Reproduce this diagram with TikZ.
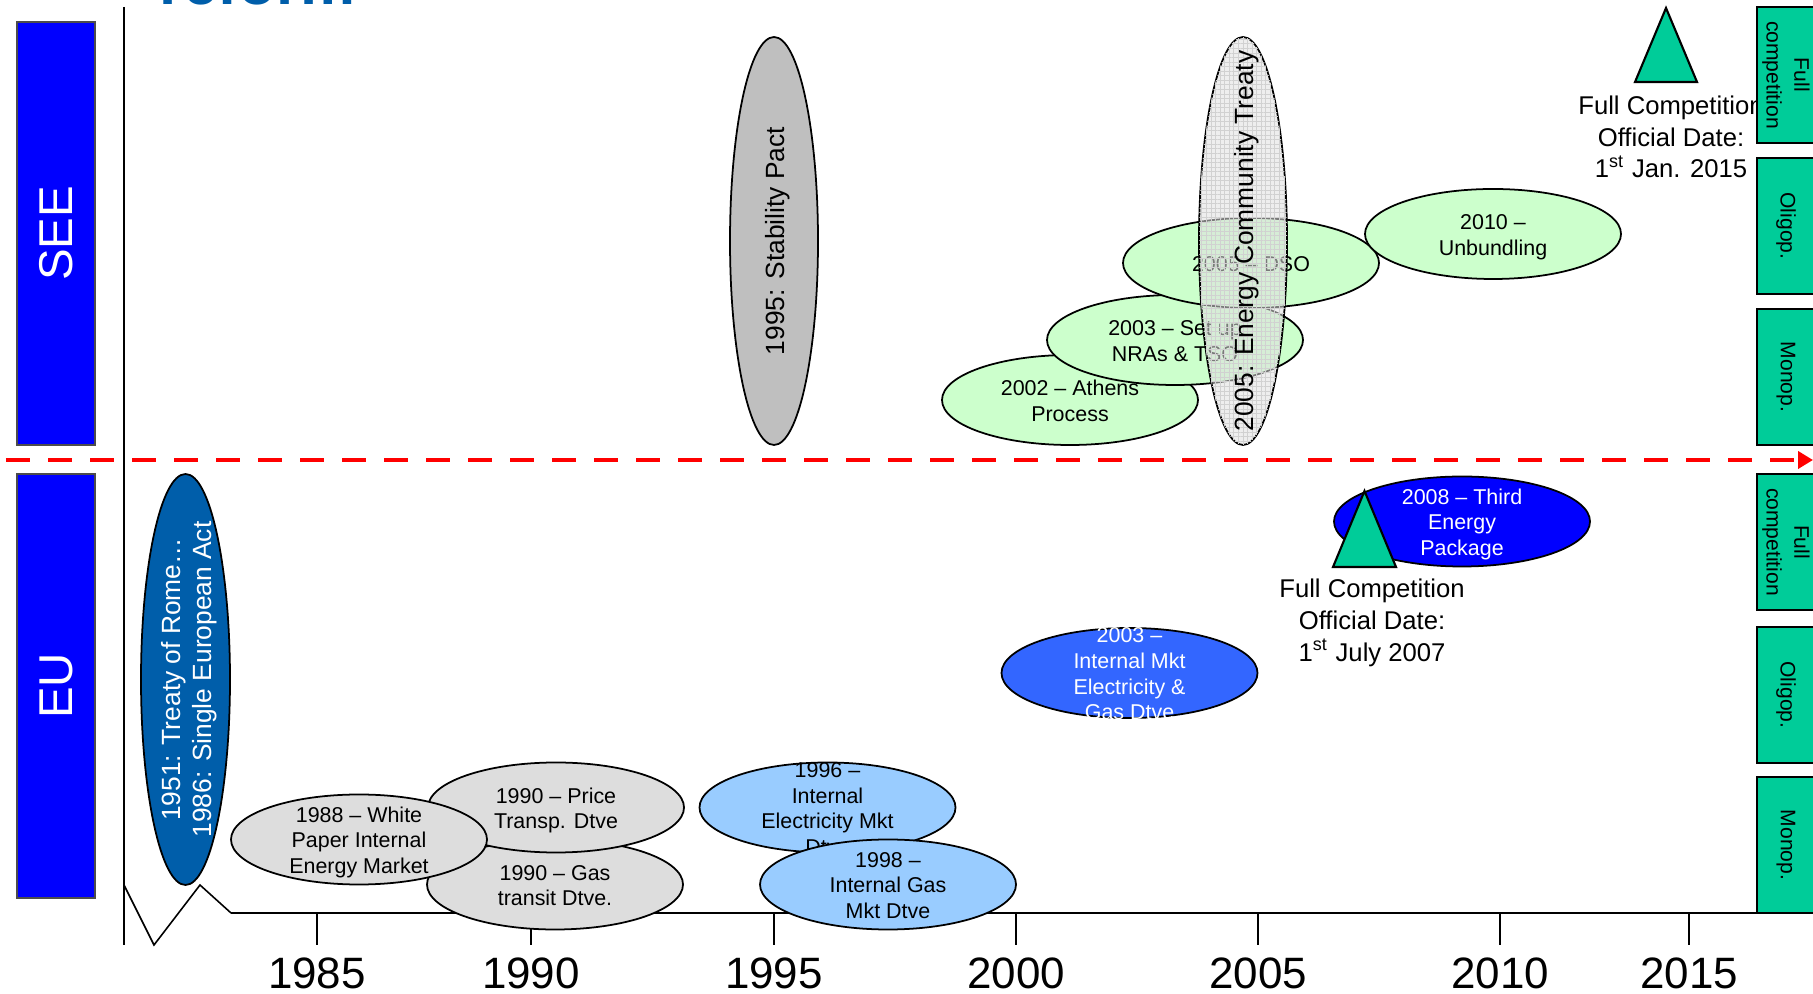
\documentclass[tikz,border=0pt]{standalone}
\usepackage{fontspec}
\setmainfont{Liberation Sans}
\usetikzlibrary{shapes.geometric,arrows.meta,patterns.meta}
\definecolor{regionblue}{RGB}{0,0,255}
\definecolor{treatyblue}{RGB}{0,94,170}
\definecolor{stagegreen}{RGB}{0,204,153}
\definecolor{seegreen}{RGB}{204,255,204}
\definecolor{eugray}{RGB}{221,221,221}
\definecolor{lightblue}{RGB}{153,204,255}
\definecolor{midblue}{RGB}{51,102,255}
\newcommand{\evtext}[1]{\raisebox{-0.75ex}[0pt][0pt]{\makebox[0pt]{\begin{tabular}{@{}c@{}}#1\end{tabular}}}}
\tikzset{
event/.style={ellipse, draw=black, line width=0.5pt, minimum width=2.56cm, minimum height=0.9cm, inner sep=0pt, font=\fontsize{6.1}{7.3}\selectfont},
pact/.style={ellipse, draw=black, line width=0.5pt, rotate=90, minimum width=4.08cm, minimum height=0.88cm, inner sep=0pt, font=\fontsize{7.5}{9}\selectfont},
ect/.style={pact, fill=black!12, fill opacity=0.55, text opacity=1, postaction={pattern={Hatch[angle=0,distance=1.3pt,line width=0.15pt]}, pattern color=black!18}},
region/.style={rectangle, draw=black!70, line width=0.4pt, fill=regionblue, text=white, rotate=90, minimum height=0.78cm, inner sep=0pt, font=\fontsize{13.5}{16}\selectfont},
stage/.style={rectangle, draw=black, line width=0.6pt, fill=stagegreen, rotate=-90, minimum width=1.36cm, minimum height=0.58cm, inner sep=0pt, align=center, font=\fontsize{6}{7.9}\selectfont},
marker/.style={draw=black, line width=0.6pt, fill=stagegreen},
note/.style={align=center, font=\fontsize{7.3}{9}\selectfont},
year/.style={font=\fontsize{12.5}{15}\selectfont},
axis/.style={line width=0.7pt},
arrow/.style={red, line width=1.4pt, dash pattern=on 0.24cm off 0.18cm, -{Triangle[length=0.15cm,width=0.17cm]}},
}

\begin{document}
\begin{tikzpicture}
\useasboundingbox (0,0) rectangle (18.13,-9.94);

\node[anchor=base west, text=treatyblue, font=\fontsize{17.6}{20}\bfseries] (title) at (1.47,-0.045) {reform};

\draw[line width=0.6pt] (1.24,-0.07) -- (1.24,-9.45);
\draw[line width=0.45pt] (1.24,-8.85) -- (1.54,-9.45) -- (2.00,-8.85) -- (2.31,-9.13);
\draw[axis] (2.31,-9.13) -- (18.13,-9.13);
\foreach \yr/\x in {1985/3.17,1990/5.31,1995/7.74,2000/10.16,2005/12.58,2010/15.00,2015/16.89} {
  \draw[axis] (\x,-9.13) -- (\x,-9.45);
  \node[year] (y\yr) at (\x,-9.73) {\yr};
}

\node[region, minimum width=4.23cm] (see) at (0.56,-2.335) {SEE};
\node[region, minimum width=4.24cm] (eu) at (0.56,-6.86) {EU};

\node[pact, fill=black!25] (stability_pact) at (7.74,-2.41) {\evtext{1995: Stability Pact}};
\node[event, fill=seegreen] (athens) at (10.70,-4.00) {\evtext{2002 -- Athens\\Process}};
\node[event, fill=seegreen] (nras_tso) at (11.75,-3.40) {\evtext{2003 -- Set up\\NRAs \& TSO}};
\node[event, fill=seegreen] (dso) at (12.51,-2.63) {\evtext{2005 -- DSO}};
\node[event, fill=seegreen] (unbundling) at (14.93,-2.34) {\evtext{2010 --\\Unbundling}};
\node[ect] (energy_community) at (12.43,-2.41) {\evtext{2005: Energy Community Treaty}};

\node[pact, fill=treatyblue, text=white, minimum width=4.11cm, minimum height=0.89cm] (rome) at (1.855,-6.795) {\evtext{1951: Treaty of Rome…\\1986: Single European Act}};
\node[event, fill=eugray] (gas_transit) at (5.55,-8.845) {\evtext{1990 -- Gas\\transit Dtve.}};
\node[event, fill=eugray] (price_transp) at (5.56,-8.075) {\evtext{1990 -- Price\\Transp. Dtve}};
\node[event, fill=eugray] (white_paper) at (3.59,-8.395) {\evtext{1988 -- White\\Paper Internal\\Energy Market}};
\node[event, fill=lightblue] (electricity_mkt) at (8.275,-8.075) {\evtext{1996 --\\Internal\\Electricity Mkt\\Dtve}};
\node[event, fill=lightblue] (gas_mkt) at (8.88,-8.845) {\evtext{1998 --\\Internal Gas\\Mkt Dtve}};
\node[event, fill=midblue, text=white] (internal_mkt) at (11.295,-6.73) {\evtext{2003 --\\Internal Mkt\\Electricity \&\\Gas Dtve}};
\node[event, fill=regionblue, text=white] (third_package) at (14.62,-5.215) {\evtext{2008 -- Third\\Energy\\Package}};

\coordinate (split_start) at (0.06,-4.60);
\coordinate (split_end) at (18.13,-4.60);
\draw[arrow] (split_start) -- (split_end);

\draw[marker] (13.33,-5.67) -- (13.645,-4.91) -- (13.96,-5.67) -- cycle;
\node[note] (eu_full) at (13.72,-6.23) {Full Competition\\Official Date:\\1\textsuperscript{st} July 2007};
\draw[marker] (16.35,-0.82) -- (16.66,-0.08) -- (16.97,-0.82) -- cycle;
\node[note] (see_full) at (16.71,-1.37) {Full Competition\\Official Date:\\1\textsuperscript{st} Jan. 2015};

\node[stage] (see_full_comp) at (17.86,-0.75) {Full\\competition};
\node[stage] (see_oligop) at (17.86,-2.26) {Oligop.};
\node[stage] (see_monop) at (17.86,-3.77) {Monop.};
\node[stage] (eu_full_comp) at (17.86,-5.42) {Full\\competition};
\node[stage] (eu_oligop) at (17.86,-6.95) {Oligop.};
\node[stage] (eu_monop) at (17.86,-8.45) {Monop.};
\end{tikzpicture}
\end{document}
